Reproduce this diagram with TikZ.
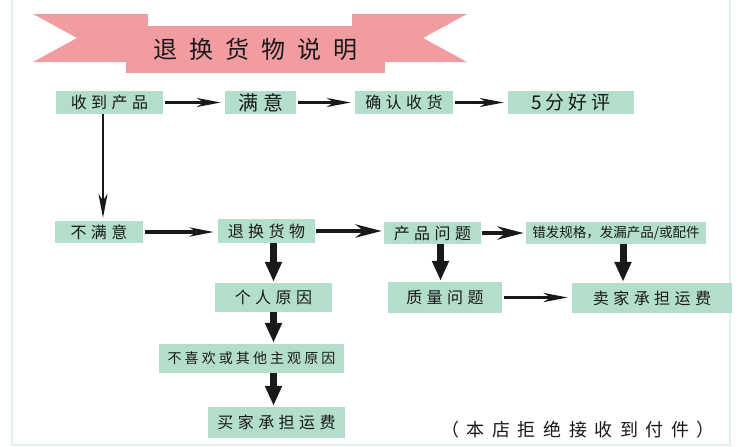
\documentclass[tikz,border=0pt]{standalone}
\usepackage{fontspec}
\setmainfont{Noto Sans CJK SC}
\usetikzlibrary{arrows.meta}
\definecolor{ribbon}{RGB}{240,156,161}
\definecolor{boxgreen}{RGB}{178,222,203}
\definecolor{frameline}{RGB}{230,239,239}
\begin{document}
\begin{tikzpicture}[x=1pt,y=-1pt,
  box/.style={fill=boxgreen,inner sep=0pt,text=black!90,
    font={\fontsize{16}{16}\selectfont\addfontfeature{LetterSpace=28}}},
  flow/.style={line width=2.8pt,black!90,shorten <=2pt,shorten >=4pt,
    -{Stealth[length=24pt,width=9pt,inset=7pt]}},
  fat/.style={line width=4.5pt,black!90,shorten <=1pt,shorten >=2pt,
    -{Stealth[length=26pt,width=13pt,inset=8pt]}},
  drop/.style={line width=7pt,black!90,shorten >=1pt,
    -{Triangle[length=20pt,width=16pt]}}]
\useasboundingbox (0,0) rectangle (750,447);
\draw[frameline,line width=1.5pt] (12,0) -- (12,445) -- (730,445) -- (730,0);
% banner
\fill[ribbon] (33,14) -- (148,14) -- (148,62) -- (33,62) -- (77,38) -- cycle;
\fill[ribbon] (467,14) -- (352,14) -- (352,62) -- (467,62) -- (423,38) -- cycle;
\node[fill=ribbon,minimum width=259,minimum height=47,inner sep=0pt,text=black!90,
  font={\fontsize{24}{24}\selectfont\addfontfeature{LetterSpace=50}}] (title) at (255,49.5) {退换货物说明};
% first row
\node[box,minimum width=107,minimum height=23] (shou) at (109.5,102.5) {收到产品};
\node[box,minimum width=71,minimum height=23,
  font={\fontsize{20}{20}\selectfont\addfontfeature{LetterSpace=25}}] (manyi) at (260.5,102.5) {满意};
\node[box,minimum width=98,minimum height=23] (queren) at (404,102.5) {确认收货};
\node[box,minimum width=126,minimum height=23,
  font={\fontsize{19}{19}\selectfont\addfontfeature{LetterSpace=20}}] (haoping) at (571,102.5) {5分好评};
% second row
\node[box,minimum width=88,minimum height=22] (bumanyi) at (99,232) {不满意};
\node[box,minimum width=97,minimum height=24] (tuihuan) at (266.5,231) {退换货物};
\node[box,minimum width=97,minimum height=22] (chanpin) at (432.5,233) {产品问题};
\node[box,minimum width=180,minimum height=22,
  font={\fontsize{13.5}{13.5}\selectfont}] (cuofa) at (616,233) {错发规格，发漏产品/或配件};
% third row
\node[box,minimum width=117,minimum height=29] (geren) at (273.5,297.5) {个人原因};
\node[box,minimum width=114,minimum height=31] (zhiliang) at (445,297.5) {质量问题};
\node[box,minimum width=160,minimum height=30] (maijia) at (652,298) {卖家承担运费};
% lower left
\node[box,minimum width=185,minimum height=29,
  font={\fontsize{14}{14}\selectfont\addfontfeature{LetterSpace=22}}] (buxihuan) at (251.5,358.5) {不喜欢或其他主观原因};
\node[box,minimum width=137,minimum height=31] (mai) at (276.5,422.5) {买家承担运费};
\node[text=black!90,inner sep=0pt,
  font={\fontsize{18}{18}\selectfont\addfontfeature{LetterSpace=42}}] (note) at (578,430) {（本店拒绝接收到付件）};
% arrows
\coordinate (down) at (103,0);
\draw[flow] (shou) -- (manyi);
\draw[flow] (manyi) -- (queren);
\draw[flow] (queren) -- (haoping);
\draw[flow,line width=2.4pt,shorten <=0pt,shorten >=3pt] (shou.south -| down) -- (bumanyi.north -| down);
\draw[flow,line width=3.6pt] (bumanyi.east) -- (tuihuan.west |- bumanyi.east);
\draw[fat] (tuihuan.east) -- (chanpin.west |- tuihuan.east);
\draw[fat] (chanpin.east) -- (cuofa.west);
\draw[flow,line width=3.6pt] (zhiliang.east) -- (maijia.west |- zhiliang.east);
\draw[drop] (tuihuan.south -| geren.north) -- (geren.north);
\draw[drop] ([xshift=8]chanpin.south) -- ([xshift=8]chanpin.south |- zhiliang.north);
\draw[drop] ([xshift=7]cuofa.south) -- ([xshift=7]cuofa.south |- maijia.north);
\draw[drop] (geren.south) -- (geren.south |- buxihuan.north);
\draw[drop] (buxihuan.south -| geren.south) -- (mai.north -| geren.south);
\end{tikzpicture}
\end{document}
